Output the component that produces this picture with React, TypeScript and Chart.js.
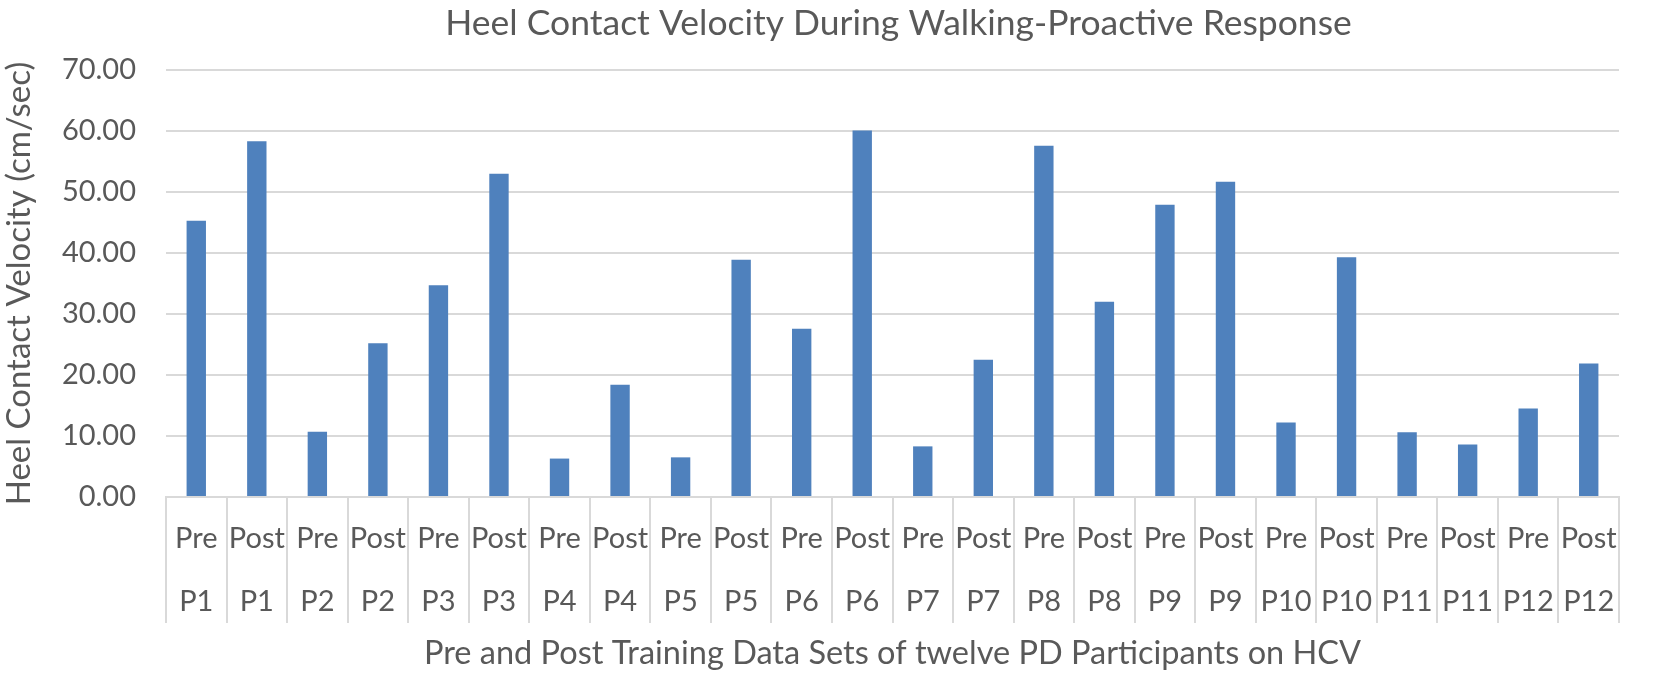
import React, { useEffect, useRef } from "react"
import { Chart, registerables } from "chart.js"

Chart.register(...registerables)

const phases = ["Pre", "Post"]
const participants = ["P1", "P2", "P3", "P4", "P5", "P6", "P7", "P8", "P9", "P10", "P11", "P12"]
// heel contact velocity (cm/sec), pre then post for each participant
const hcvValues = [
  45.3, 58.3, 10.7, 25.2, 34.7, 53.0, 6.3, 18.4, 6.5, 38.9, 27.6, 60.1,
  8.3, 22.5, 57.6, 32.0, 47.9, 51.7, 12.2, 39.3, 10.6, 8.6, 14.5, 21.9,
]

const TEXT = "#595959"
const GRID = "#d9d9d9"
const FONT = "Lato"

// title centred over the plot area
const plotTitle = {
  id: "plotTitle",
  afterDraw(chart: Chart) {
    const { ctx, chartArea } = chart
    ctx.save()
    ctx.font = `35.5px ${FONT}`
    ctx.fillStyle = TEXT
    ctx.textAlign = "center"
    ctx.textBaseline = "middle"
    ctx.fillText(
      "Heel Contact Velocity During Walking-Proactive Response",
      (chartArea.left + chartArea.right) / 2 + 6,
      24
    )
    ctx.restore()
  },
}

export default function App() {
  const canvasRef = useRef<HTMLCanvasElement>(null)
  const chartRef = useRef<Chart | null>(null)

  useEffect(() => {
    document.body.style.margin = "0"
    if (!canvasRef.current) return
    chartRef.current?.destroy()

    const labels = participants.flatMap((p) => phases.map((ph) => [ph, p]))

    chartRef.current = new Chart(canvasRef.current, {
      type: "bar",
      data: {
        labels,
        datasets: [
          {
            label: "HCV",
            data: hcvValues,
            backgroundColor: "#4f81bd",
            barPercentage: 0.32,
            categoryPercentage: 1,
          },
        ],
      },
      plugins: [plotTitle],
      options: {
        animation: false,
        responsive: true,
        maintainAspectRatio: false,
        layout: { padding: { top: 70, right: 39, left: 0, bottom: 0 } },
        plugins: {
          legend: { display: false },
          tooltip: { enabled: false },
        },
        scales: {
          x: {
            afterFit: (scale) => {
              scale.height = 178
            },
            grid: {
              offset: true,
              drawOnChartArea: false,
              drawTicks: true,
              tickLength: 126,
              color: GRID,
              lineWidth: 2,
            },
            border: { color: GRID, width: 2 },
            ticks: {
              color: TEXT,
              font: { family: FONT, size: 29, lineHeight: 2.17 },
              padding: -116,
              maxRotation: 0,
              autoSkip: false,
            },
            title: {
              display: true,
              text: "Pre and Post Training Data Sets of twelve PD Participants on HCV",
              color: TEXT,
              font: { family: FONT, size: 32.5, lineHeight: 1.2 },
              padding: { top: 0, bottom: 2 },
            },
          },
          y: {
            min: 0,
            max: 70,
            afterFit: (scale) => {
              scale.width = 166
            },
            grid: { color: GRID, lineWidth: 2, drawTicks: false },
            border: { display: false },
            ticks: {
              stepSize: 10,
              color: TEXT,
              font: { family: FONT, size: 29 },
              padding: 30,
              callback: (v) => Number(v).toFixed(2),
            },
            title: {
              display: true,
              text: "Heel Contact Velocity (cm/sec)",
              color: TEXT,
              font: { family: FONT, size: 33, lineHeight: 1.2 },
              padding: { top: 0, bottom: 0 },
            },
          },
        },
      },
    })

    return () => {
      chartRef.current?.destroy()
      chartRef.current = null
    }
  }, [])

  return (
    <div style={{ width: 1658, height: 675 }}>
      <canvas ref={canvasRef} />
    </div>
  )
}
